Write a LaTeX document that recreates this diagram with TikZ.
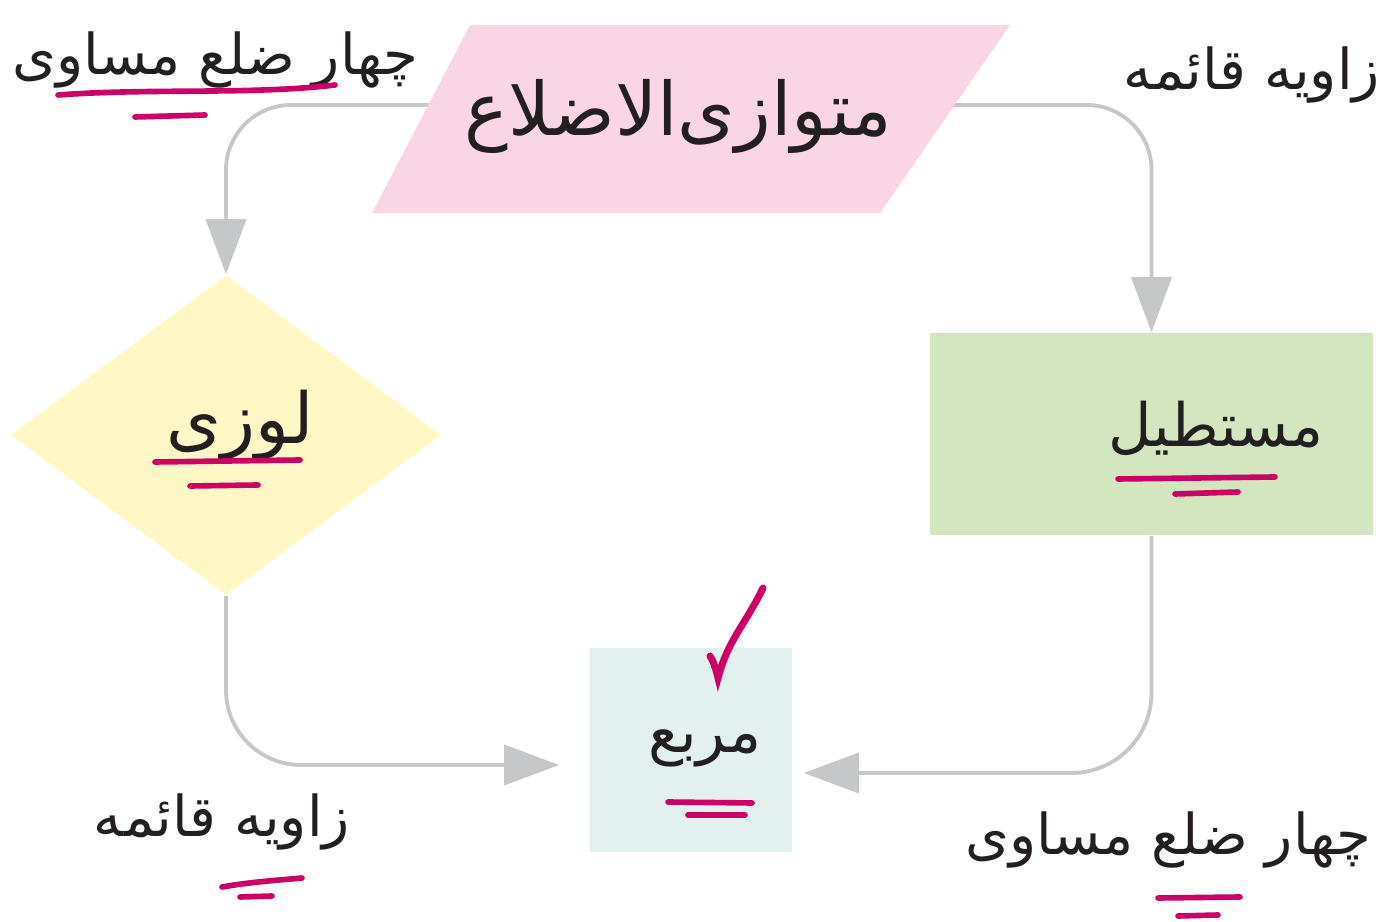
\documentclass[tikz,border=0pt]{standalone}
\usepackage{fontspec}
\newfontfamily\arabicfont[Script=Arabic]{DejaVu Sans}
\TeXXeTstate=1
\usetikzlibrary{shapes.geometric,arrows.meta,backgrounds}
\definecolor{pinkfill}{HTML}{F9D5E5}
\definecolor{yellowfill}{HTML}{FFF8C6}
\definecolor{greenfill}{HTML}{D3E6C0}
\definecolor{cyanfill}{HTML}{E2F1F0}
\definecolor{conngray}{HTML}{C6C7C9}
\definecolor{hand}{HTML}{CC0066}
\definecolor{ink}{HTML}{231F20}
\newcommand{\fsz}[1]{\arabicfont\fontsize{#1}{#1}\selectfont}
\begin{document}
\begin{tikzpicture}[x=0.01cm,y=-0.01cm,
  conn/.style={draw=conngray,line width=1.1pt,-{Triangle[length=0.55cm,width=0.4cm]}},
  handline/.style={draw=hand,line width=1.6pt,line cap=round},
  txt/.style={text=ink,inner sep=0pt}]
\useasboundingbox (0,0) rectangle (1391,922);
% parallelogram
\fill[pinkfill] (470,25) -- (1010,25) -- (880,213) -- (372,213) -- cycle;
\node[txt] (para) at (678,116) {\fsz{21}\beginR متوازی‌الاضلاع\endR};
% diamond
\node[shape=diamond,fill=yellowfill,minimum width=4.3cm,minimum height=3.2cm,inner sep=0pt] (dia) at (226,435) {};
\node[txt] (diatext) at (240,425) {\fsz{20}\beginR لوزی\endR};
% rectangle
\node[shape=rectangle,fill=greenfill,minimum width=4.43cm,minimum height=2.02cm,inner sep=0pt] (rect) at (1151.5,434) {};
\node[txt] (recttext) at (1216,428) {\fsz{17}\beginR مستطیل\endR};
% square
\node[shape=rectangle,fill=cyanfill,minimum width=2.02cm,minimum height=2.04cm,inner sep=0pt] (sq) at (691,750) {};
\node[txt] (sqtext) at (705,748) {\fsz{17}\beginR مربع\endR};
% labels
\node[txt] (l1) at (215,60) {\fsz{16}\beginR چهار ضلع مساوی\endR};
\node[txt] (l2) at (1252,75) {\fsz{16}\beginR زاویه قائمه\endR};
\node[txt] (l3) at (222,822) {\fsz{16}\beginR زاویه قائمه\endR};
\node[txt] (l4) at (1168,840) {\fsz{16}\beginR چهار ضلع مساوی\endR};
% connectors
\begin{scope}[on background layer]
\draw[conn,rounded corners=0.65cm] (para.center |- 0,105) -| (dia.north);
\draw[conn,rounded corners=0.65cm] (para.center |- 0,105) -| (rect.north);
\draw[conn,rounded corners=0.75cm,shorten >=0.3cm] (dia.south) |- (sq.west |- 0,765);
\draw[conn,rounded corners=0.8cm,shorten >=0.11cm] (rect.south) |- (sq.east |- 0,773);
\end{scope}
% hand-drawn marks
\draw[handline] (58,95) .. controls (150,88) and (250,95) .. (335,85);
\draw[handline] (135,117) -- (205,115);
\draw[handline] (155,462) -- (300,460);
\draw[handline] (190,486) -- (258,485);
\draw[handline] (1118,479) -- (1275,477);
\draw[handline] (1175,494) -- (1238,492);
\draw[handline] (668,802) -- (752,803);
\draw[handline] (688,815) -- (745,815);
\draw[handline] (222,887) .. controls (250,882) and (280,880) .. (302,878);
\draw[handline] (240,897) -- (272,896);
\draw[handline] (1158,898) -- (1240,897);
\draw[handline] (1178,916) -- (1218,915);
\draw[handline,line width=2pt] (710,656) .. controls (714,662) and (716,670) .. (718,678) .. controls (728,640) and (745,625) .. (763,588);
\end{tikzpicture}
\end{document}
